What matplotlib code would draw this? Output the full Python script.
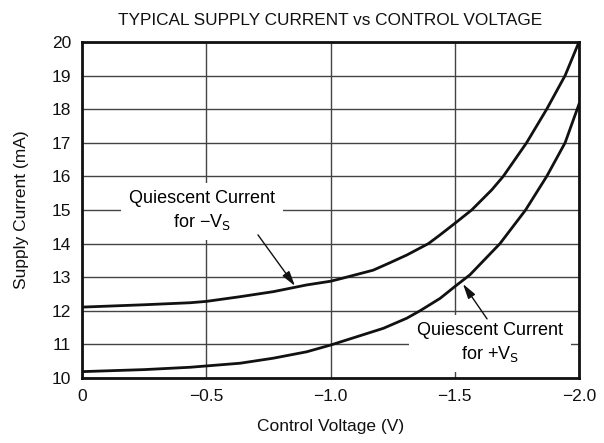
import numpy as np
import matplotlib.pyplot as plt

plt.rcParams['font.family'] = ['Liberation Sans', 'DejaVu Sans']

# control voltage (V) and supply current (mA)
v_neg = [0, -0.25, -0.435, -0.5, -0.636, -0.770, -0.904, -1.0, -1.038, -1.172,
         -1.239, -1.307, -1.394, -1.441, -1.5, -1.568, -1.649, -1.695, -1.789,
         -1.870, -1.944, -2.0]
i_neg = [12.11, 12.18, 12.24, 12.28, 12.42, 12.57, 12.77, 12.88, 12.95, 13.21,
         13.43, 13.66, 14.0, 14.26, 14.6, 15.0, 15.6, 16.0, 17.0,
         18.0, 19.0, 20.0]

v_pos = [0, -0.25, -0.435, -0.636, -0.770, -0.904, -1.0, -1.213, -1.307, -1.36,
         -1.441, -1.5, -1.561, -1.682, -1.785, -1.870, -1.944, -2.0]
i_pos = [10.19, 10.25, 10.32, 10.44, 10.59, 10.78, 10.98, 11.48, 11.78, 12.0,
         12.37, 12.72, 13.07, 14.0, 15.0, 16.0, 17.0, 18.15]

x_ticks = [0, -0.5, -1.0, -1.5, -2.0]
x_labels = ['0', '\u22120.5', '\u22121.0', '\u22121.5', '\u22122.0']
y_ticks = np.arange(10, 21)

fig = plt.figure(figsize=(6.04, 4.43), dpi=100)
ax = fig.add_axes([0.1358, 0.1467, 0.8228, 0.7585])

ax.plot(v_neg, i_neg, color='#111111', lw=2.0, zorder=5, solid_joinstyle='round')
ax.plot(v_pos, i_pos, color='#111111', lw=2.0, zorder=5, solid_joinstyle='round')

ax.set_xlim(0, -2.0)
ax.set_ylim(10, 20)
ax.set_xticks(x_ticks)
ax.set_xticklabels(x_labels)
ax.set_yticks(y_ticks)
ax.tick_params(length=0, labelsize=12.5, pad=8, colors='#111111')
ax.grid(True, color='#444444', lw=1.0, zorder=1)
for s in ax.spines.values():
    s.set_linewidth(2.0)
    s.set_color('#111111')

ax.set_title('TYPICAL SUPPLY CURRENT vs CONTROL VOLTAGE', fontsize=12.4, pad=12,
             color='#111111')
ax.set_xlabel('Control Voltage (V)', fontsize=12.5, labelpad=11, color='#111111')
ax.set_ylabel('Supply Current (mA)', fontsize=12.5, labelpad=16, color='#111111')

box = dict(boxstyle='square,pad=0.45', fc='white', ec='none')
ax.text(-0.483, 14.97, 'Quiescent Current\nfor \u2212V$_\\mathrm{S}$', ha='center',
        va='center', fontsize=13, linespacing=1.3, bbox=box, zorder=4)
ax.text(-1.642, 11.04, 'Quiescent Current\nfor +V$_\\mathrm{S}$', ha='center',
        va='center', fontsize=13, linespacing=1.3, bbox=box, zorder=4)

arrow = dict(arrowstyle='-|>,head_length=0.9,head_width=0.25', color='#111111',
             lw=1.0, shrinkA=0, shrinkB=0)
ax.annotate('', xy=(-0.857, 12.74), xytext=(-0.708, 14.26), arrowprops=arrow, zorder=6)
ax.annotate('', xy=(-1.533, 12.8), xytext=(-1.63, 11.76), arrowprops=arrow, zorder=6)

fig.savefig('out.png', dpi=100)
